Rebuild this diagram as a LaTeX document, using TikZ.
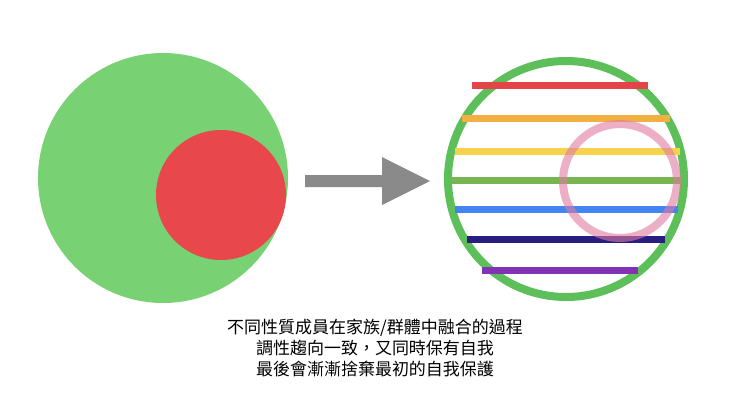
\documentclass[tikz,border=0pt]{standalone}
\usepackage{fontspec}
\newfontfamily\cjk{Noto Sans CJK TC}
\begin{document}
\begin{tikzpicture}[x=1pt,y=-1pt,
  stripe/.style={line width=7pt},
  lbl/.style={font=\cjk\fontsize{17}{21}\selectfont,align=center}]
\definecolor{cgreen}{HTML}{78D172}
\definecolor{cred}{HTML}{E8474C}
\definecolor{cgray}{HTML}{8A8A8A}
\definecolor{rgreen}{HTML}{5DBF5A}
\definecolor{pinkc}{HTML}{E07AA0}
\useasboundingbox (0,0) rectangle (740,416);
\fill[white] (0,0) rectangle (740,416);
% left
\node[circle,fill=cgreen,minimum size=250pt,inner sep=0] (big) at (163,178) {};
\node[circle,fill=cred,minimum size=130pt,inner sep=0] (small) at (221,195) {};
% arrow
\fill[cgray] (305,175) -- (382,175) -- (382,157) -- (430,181) -- (382,205) -- (382,187) -- (305,187) -- cycle;
% right
\node[circle,draw=rgreen,line width=8pt,fill=white,minimum size=236pt,inner sep=0] (ring) at (566,179) {};
\draw[stripe,color={rgb,255:red,228;green,68;blue,72}] (472,85) -- (648,85);
\draw[stripe,color={rgb,255:red,242;green,176;blue,66}] (462,118) -- (670,118);
\draw[stripe,color={rgb,255:red,246;green,210;blue,77}] (455,151) -- (680,151);
\draw[stripe,color={rgb,255:red,120;green,180;blue,80}] (452,180) -- (682,180);
\draw[stripe,color={rgb,255:red,66;green,133;blue,240}] (455,209) -- (678,209);
\draw[stripe,color={rgb,255:red,40;green,30;blue,130}] (467,239) -- (665,239);
\draw[stripe,color={rgb,255:red,130;green,50;blue,180}] (482,270) -- (638,270);
\node[circle,draw=pinkc,draw opacity=0.6,line width=8pt,minimum size=114pt,inner sep=0] (pink) at (620,181) {};
% text
\node[lbl] (cap) at (375,348) {不同性質成員在家族/群體中融合的過程\\調性趨向一致，又同時保有自我\\最後會漸漸捨棄最初的自我保護};
\end{tikzpicture}
\end{document}
